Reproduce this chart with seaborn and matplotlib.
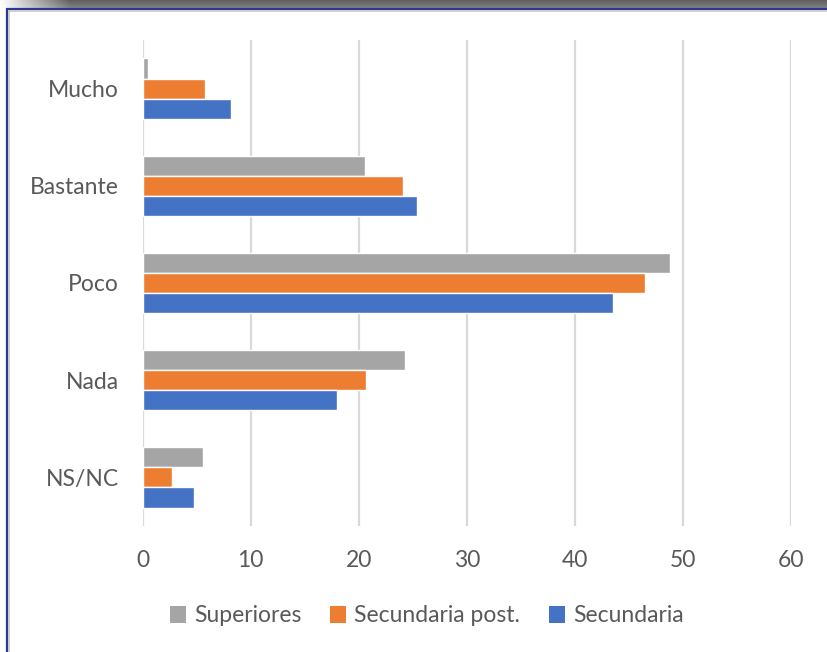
import numpy as np
import pandas as pd
import matplotlib
matplotlib.use("Agg")
import matplotlib.pyplot as plt
from matplotlib.lines import Line2D
from matplotlib.patches import Patch
import seaborn as sns

# data
categories = ['Mucho', 'Bastante', 'Poco', 'Nada', 'NS/NC']
superiores = [0.5, 20.6, 48.8, 24.3, 5.6]
secundaria_post = [5.8, 24.1, 46.5, 20.7, 2.7]
secundaria = [8.2, 25.4, 43.5, 18.0, 4.8]
series = ['Superiores', 'Secundaria post.', 'Secundaria']
colors = ['#A5A5A5', '#ED7D31', '#4472C4']
x_ticks = [0, 10, 20, 30, 40, 50, 60]

df = pd.DataFrame({
    'cat': categories * 3,
    'serie': [series[0]] * 5 + [series[1]] * 5 + [series[2]] * 5,
    'valor': superiores + secundaria_post + secundaria,
})

sns.set_theme(style='white')
plt.rcParams['font.family'] = ['Lato', 'DejaVu Sans']
txt = '#595959'

W, H = 827, 652
fig = plt.figure(figsize=(W / 100, H / 100), dpi=100)
ax = fig.add_axes([142.5 / W, 1 - 526 / H, (791 - 142.5) / W, (526 - 40) / H])

sns.barplot(data=df, x='valor', y='cat', hue='serie', order=categories,
            hue_order=series, palette=colors, orient='h', width=0.62,
            saturation=1, ax=ax, legend=False)

ax.set_xlim(0, 60)
ax.set_ylim(4.5, -0.5)
ax.set_xticks(x_ticks)
ax.xaxis.grid(True, color='#D9D9D9', lw=1.6)
ax.set_axisbelow(True)
for s in ax.spines.values():
    s.set_visible(False)
ax.tick_params(axis='both', length=0, colors=txt, labelsize=16.5)
ax.tick_params(axis='x', pad=17)
ax.tick_params(axis='y', pad=17)
ax.set_xlabel('')
ax.set_ylabel('')

handles = [Patch(facecolor=c, edgecolor='none') for c in colors]
fig.legend(handles, series, loc='center', bbox_to_anchor=(427 / W, 1 - 616 / H),
           ncol=3, frameon=False, fontsize=16.5, handlelength=0.7, handleheight=0.7,
           handletextpad=0.35, columnspacing=1.25, labelcolor=txt)

# frame of the screenshot: shadow on top, navy border and inner gray line
top = fig.add_axes([0, 1 - 8 / H, 1, 8 / H])
gx = np.clip(np.linspace(0, W, W) / 70, 0, 1)
gy = np.linspace(0.75, 1.0, 8)[:, None]
grad = 1 - np.outer(np.ones(8), gx) * (1 - 0.5 * gy)
top.imshow(grad, cmap='gray', vmin=0, vmax=1, aspect='auto', extent=[0, W, 0, 8])
top.axis('off')
fig.add_artist(Line2D([7 / W, 1], [1 - 8.5 / H] * 2, color='#2B3990', lw=1.6))
fig.add_artist(Line2D([7 / W] * 2, [0, 1 - 8.5 / H], color='#2B3990', lw=1.6))
fig.add_artist(Line2D([9 / W, 1], [1 - 10.5 / H] * 2, color='#C8C8C8', lw=1.2))
fig.add_artist(Line2D([9 / W] * 2, [0, 1 - 10.5 / H], color='#C8C8C8', lw=1.2))

fig.savefig('out.png', dpi=100, facecolor='white')
